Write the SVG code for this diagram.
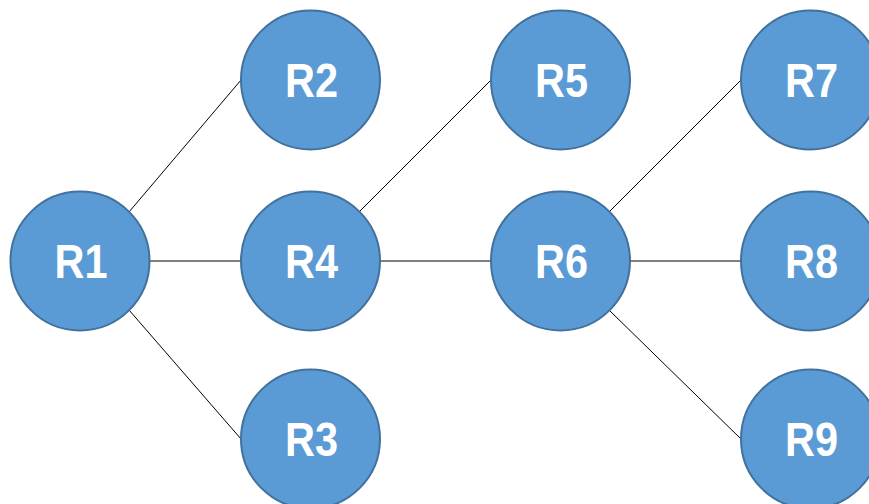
<svg xmlns="http://www.w3.org/2000/svg" width="869" height="504" viewBox="0 0 869 504">
<style>
.n circle{fill:#5B9BD5;stroke:#41719C;stroke-width:2}
.n text{fill:#fff;font-family:"Liberation Sans",Arial,sans-serif;font-weight:bold;font-size:48px;text-anchor:middle}
.e line{stroke:#000;stroke-width:1}
</style>
<rect width="869" height="504" fill="#fff"/>
<g id="connectors" class="e">
<line x1="129" y1="212" x2="241" y2="80"/>
<line x1="149.5" y1="261" x2="241" y2="261"/>
<line x1="129" y1="310" x2="241" y2="439"/>
<line x1="359" y1="212" x2="491" y2="80"/>
<line x1="380" y1="261" x2="491" y2="261"/>
<line x1="609" y1="212" x2="741" y2="80"/>
<line x1="630" y1="261" x2="741" y2="261"/>
<line x1="609" y1="310" x2="741" y2="439"/>
</g>
<g id="R1" class="n"><circle cx="80" cy="261" r="69.5"/><text x="81" y="278" textLength="53" lengthAdjust="spacingAndGlyphs">R1</text></g>
<g id="R2" class="n"><circle cx="310.5" cy="80" r="69.5"/><text x="311.5" y="97" textLength="53" lengthAdjust="spacingAndGlyphs">R2</text></g>
<g id="R3" class="n"><circle cx="310.5" cy="439" r="69.5"/><text x="311.5" y="456" textLength="53" lengthAdjust="spacingAndGlyphs">R3</text></g>
<g id="R4" class="n"><circle cx="310.5" cy="261" r="69.5"/><text x="311.5" y="278" textLength="53" lengthAdjust="spacingAndGlyphs">R4</text></g>
<g id="R5" class="n"><circle cx="560.5" cy="80" r="69.5"/><text x="561.5" y="97" textLength="53" lengthAdjust="spacingAndGlyphs">R5</text></g>
<g id="R6" class="n"><circle cx="560.5" cy="261" r="69.5"/><text x="561.5" y="278" textLength="53" lengthAdjust="spacingAndGlyphs">R6</text></g>
<g id="R7" class="n"><circle cx="810.5" cy="80" r="69.5"/><text x="811.5" y="97" textLength="53" lengthAdjust="spacingAndGlyphs">R7</text></g>
<g id="R8" class="n"><circle cx="810.5" cy="261" r="69.5"/><text x="811.5" y="278" textLength="53" lengthAdjust="spacingAndGlyphs">R8</text></g>
<g id="R9" class="n"><circle cx="810.5" cy="439" r="69.5"/><text x="811.5" y="456" textLength="53" lengthAdjust="spacingAndGlyphs">R9</text></g>
</svg>
